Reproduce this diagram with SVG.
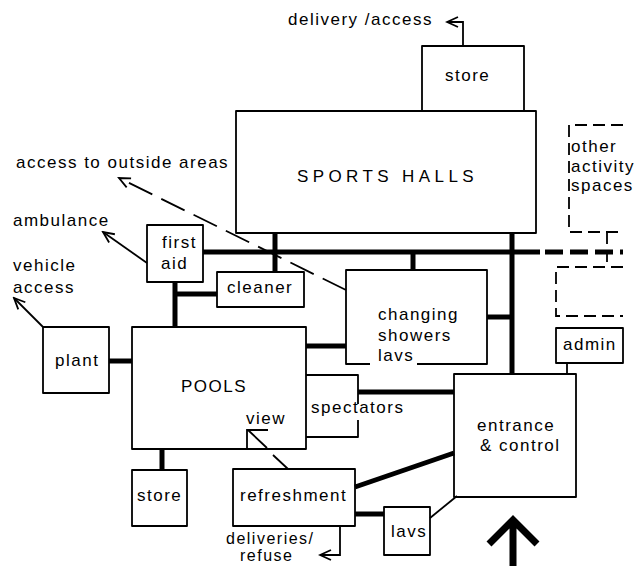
<svg xmlns="http://www.w3.org/2000/svg" width="640" height="566" viewBox="0 0 640 566">
<style>
text{font-family:"Liberation Sans",Arial,sans-serif;font-size:17px;letter-spacing:1.5px;fill:#000}
.box{fill:none;stroke:#000;stroke-width:1.8;stroke-linejoin:round}
.dbox{fill:none;stroke:#000;stroke-width:1.8;stroke-dasharray:12 6}
.thick{fill:none;stroke:#000;stroke-width:5}
.thin{fill:none;stroke:#000;stroke-width:1.8}
.arr{fill:none;stroke:#000;stroke-width:1.8;marker-end:url(#ah)}
</style>
<defs>
<marker id="ah" markerUnits="userSpaceOnUse" markerWidth="14" markerHeight="14" refX="12" refY="6" orient="auto" viewBox="0 0 14 12">
<path d="M1,1 L12,6 L1,11" fill="none" stroke="#000" stroke-width="1.8" stroke-dasharray="none"/>
</marker>
</defs>
<rect width="640" height="566" fill="#fff"/>

<g id="connectors">
<path class="thick" d="M203,252 H540"/>
<path class="thick" d="M545,252 H623" stroke-dasharray="18 7"/>
<path class="thick" d="M275,233 V272"/>
<path class="thick" d="M413,252 V270" stroke-width="4"/>
<path class="thick" d="M512,233 V374"/>
<path class="thick" d="M487,317 H512"/>
<path class="thick" d="M175,282 V327"/>
<path class="thick" d="M175,294 H217"/>
<path class="thick" d="M109,361 H132"/>
<path class="thick" d="M306,346 H346"/>
<path class="thick" d="M358,392 H454"/>
<path class="thick" d="M162,449 V470"/>
<path class="thick" d="M355,487 L454,453" stroke-width="6"/>
<path class="thick" d="M355,514 H384"/>
<path class="thin" d="M430,518 L457,496" stroke-width="2.5"/>
<path class="thin" d="M567,363 V374" stroke-width="1.5"/>
<path class="thin" d="M247,449 V430 H268"/>
<path class="thin" d="M248,430 L267,448 M273,455 L288,469"/>
<path class="dbox" d="M607,232 V267" stroke-dasharray="8 5"/>
<path class="arr" d="M463,46 V22 H447"/>
<path class="arr" d="M340,526 V555 H320"/>
<path class="arr" d="M147,263 L103,232"/>
<path class="arr" d="M43,327 L14,298"/>
<path class="arr" d="M346,290 L119,178" stroke-dasharray="26 10"/>
<path d="M513,566 V521 M489,544 L513,520 L537,544" fill="none" stroke="#000" stroke-width="7"/>
</g>

<g id="delivery-label"><text x="288" y="25">delivery /access</text></g>
<g id="store-top"><rect class="box" x="422" y="46" width="102" height="65"/><text x="445" y="81">store</text></g>
<g id="sports-halls"><rect class="box" x="236" y="111" width="300" height="122"/><text x="297" y="182" style="letter-spacing:4.4px">SPORTS HALLS</text></g>
<g id="other-activity"><path class="dbox" d="M623,125 H569 V232 H623"/><text x="571" y="152">other</text><text x="571" y="172">activity</text><text x="571" y="191">spaces</text></g>
<g id="other-activity-2"><path class="dbox" d="M623,267 H556 V316 H623"/></g>
<g id="outside-label"><text x="16" y="168">access to outside areas</text></g>
<g id="ambulance-label"><text x="13" y="226">ambulance</text></g>
<g id="vehicle-label"><text x="13" y="271">vehicle</text><text x="13" y="293">access</text></g>
<g id="first-aid"><rect class="box" x="147" y="225" width="56" height="57"/><text x="162" y="248">first</text><text x="161" y="269">aid</text></g>
<g id="cleaner"><rect class="box" x="217" y="272" width="87" height="35"/><text x="227" y="293">cleaner</text></g>
<g id="changing"><path class="box" d="M370,364 H346 V270 H487 V364 H417"/><text x="378" y="320">changing</text><text x="378" y="341">showers</text><text x="378" y="361">lavs</text></g>
<g id="admin"><rect class="box" x="556" y="328" width="67" height="35"/><text x="563" y="350">admin</text></g>
<g id="plant"><rect class="box" x="43" y="327" width="66" height="66"/><text x="55" y="366">plant</text></g>
<g id="pools"><rect class="box" x="132" y="327" width="174" height="122"/><text x="181" y="392">POOLS</text><text x="246" y="424">view</text></g>
<g id="spectators"><path class="box" d="M306,375 H358 V404 M358,420 V437 H306"/><text x="311" y="413">spectators</text></g>
<g id="entrance"><rect class="box" x="454" y="374" width="122" height="123"/><text x="477" y="431">entrance</text><text x="480" y="451">&amp; control</text></g>
<g id="store-pools"><rect class="box" x="132" y="470" width="55" height="56"/><text x="137" y="501">store</text></g>
<g id="refreshment"><rect class="box" x="233" y="469" width="122" height="57"/><text x="240" y="501">refreshment</text></g>
<g id="lavs"><rect class="box" x="384" y="507" width="46" height="48"/><text x="391" y="537">lavs</text></g>
<g id="deliveries-label"><text x="226" y="544" style="font-size:16px">deliveries/</text><text x="240" y="561" style="font-size:16px">refuse</text></g>
</svg>
